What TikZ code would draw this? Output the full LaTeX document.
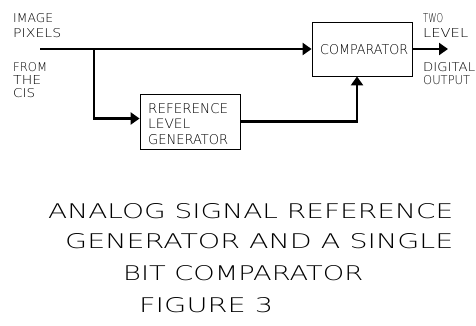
\documentclass[tikz,border=0pt]{standalone}
\usepackage{fontspec}
\IfFontExistsTF{DejaVu Sans ExtraLight}
  {\newfontfamily\lml{DejaVu Sans ExtraLight}}
  {\newfontfamily\lml{lmsans10-regular.otf}}
\usetikzlibrary{arrows.meta,calc}
\usepackage{graphicx}
\newcommand{\fitt}[3]{\resizebox{#1pt}{#2pt}{\lml #3}}
\tikzset{
  box/.style={draw, line width=0.8pt, inner sep=0pt, minimum width=100pt},
  sig/.style={line width=2.8pt, -{Triangle[length=9pt,width=12pt]}},
  lbl/.style={anchor=north west, inner sep=0pt}
}
\begin{document}
\begin{tikzpicture}[x=1pt,y=1pt]
\useasboundingbox (0,0) rectangle (476,-325);
% boxes
\node[box, minimum height=54pt] (comp) at (362,-49) {};
\node[box, minimum height=55pt] (ref) at (190,-121.5) {};
% coordinates
\coordinate (in) at (40,-49);
\coordinate (br) at (94,-49);
\coordinate (out) at (448,-49);
% connectors
\draw[sig] (in) -- (comp.west);
\draw[sig] (br) |- ([yshift=3pt]ref.west);
\draw[sig] (ref.east) -| ([xshift=-5pt]comp.south);
\draw[sig] (comp.east) -- (out);
% box texts
\node[lbl] (t1) at (148,-103) {\fitt{80}{10}{REFERENCE}};
\node[lbl] (t2) at (148,-119) {\fitt{42}{9.5}{LEVEL}};
\node[lbl] (t3) at (148,-134) {\fitt{80}{10}{GENERATOR}};
\node[lbl] (t4) at (320,-44) {\fitt{88}{10}{COMPARATOR}};
% side labels
\node[lbl] (l1) at (13,-13) {\fitt{40}{9}{IMAGE}};
\node[lbl] (l2) at (13,-28) {\fitt{48}{9}{PIXELS}};
\node[lbl] (l3) at (13,-62) {\fitt{34}{9}{FROM}};
\node[lbl] (l4) at (13,-75) {\fitt{28}{9}{THE}};
\node[lbl] (l5) at (13,-88) {\fitt{22}{9}{CIS}};
\node[lbl] (r1) at (423,-13) {\fitt{20}{9}{TWO}};
\node[lbl] (r2) at (423,-28) {\fitt{45}{9}{LEVEL}};
\node[lbl] (r3) at (423,-62) {\fitt{52}{9}{DIGITAL}};
\node[lbl] (r4) at (423,-75) {\fitt{47}{9}{OUTPUT}};
% title
\node[lbl] (c1) at (48,-203) {\fitt{405}{15}{ANALOG SIGNAL REFERENCE}};
\node[lbl] (c2) at (65,-233) {\fitt{388}{15}{GENERATOR AND A SINGLE}};
\node[lbl] (c3) at (123,-265) {\fitt{240}{15}{BIT COMPARATOR}};
\node[lbl] (c4) at (139,-297) {\fitt{134}{15}{FIGURE 3}};
\end{tikzpicture}
\end{document}
